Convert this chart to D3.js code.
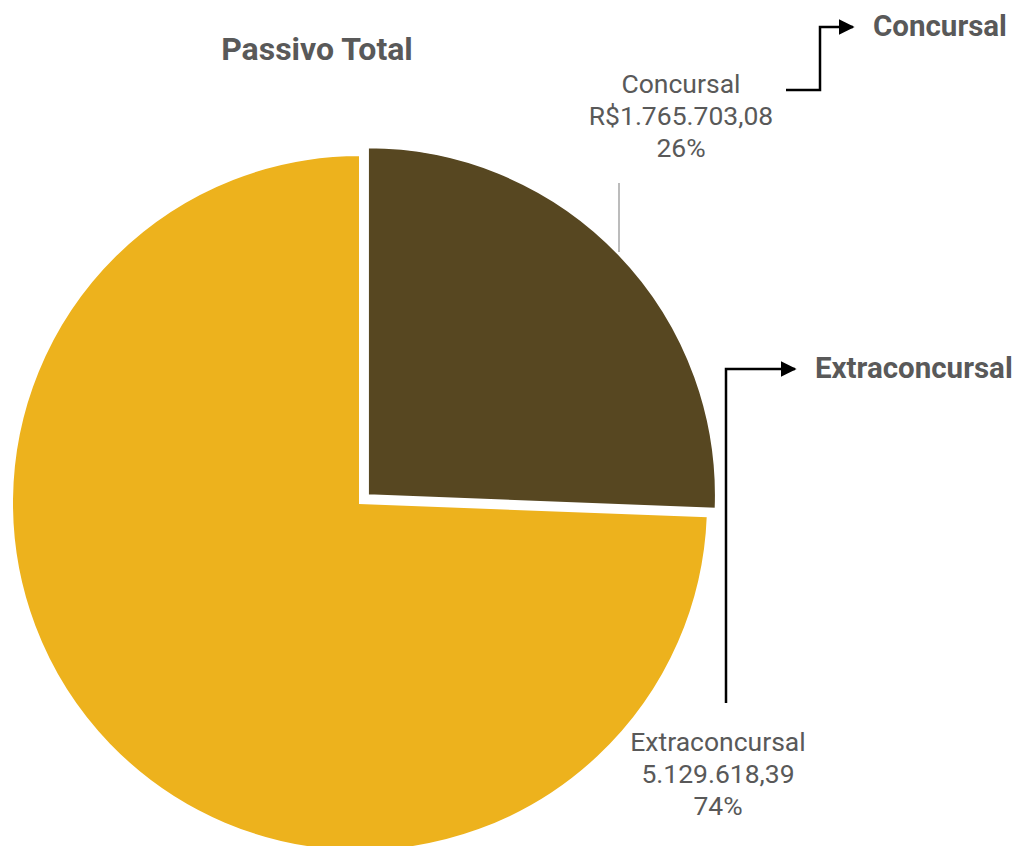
<!DOCTYPE html>
<html><head><meta charset="utf-8">
<script src="https://cdn.jsdelivr.net/npm/d3@7"></script>
<style>body{margin:0;background:#fff;}svg{display:block;font-family:Roboto,"Noto Sans",sans-serif;}</style>
</head><body>
<svg id="c" width="1019" height="846"></svg>
<script>
const categories = ["Concursal", "Extraconcursal"];
const values = [1765703.08, 5129618.39];
const valueLabels = ["R$1.765.703,08", "5.129.618,39"];
const percentLabels = ["26%", "74%"];
const colors = ["#574721", "#EDB21D"];
const title = "Passivo Total";

const svg = d3.select("#c");
const cx = 360, cy = 503, R = 348;
const pie = d3.pie().sort(null).value(d => d.v);
const data = pie(categories.map((c, i) => ({c, v: values[i], i})));
const arc = d3.arc().innerRadius(0).outerRadius(R);
const g = svg.append("g").attr("transform", `translate(${cx},${cy})`);
const explode = [11, 0];
g.selectAll("path").data(data).join("path")
  .attr("d", arc)
  .attr("fill", d => colors[d.data.i])
  .attr("stroke", "#fff").attr("stroke-width", 2)
  .attr("transform", d => {
    const a = (d.startAngle + d.endAngle) / 2, e = explode[d.data.i];
    return `translate(${e*Math.sin(a)},${-e*Math.cos(a)})`;
  });

svg.append("text").attr("x", 317).attr("y", 60).attr("text-anchor", "middle")
  .attr("font-size", 32).attr("font-weight", "bold").attr("fill", "#595959").text(title);

// data labels
const lab = [{x: 681, y: 93}, {x: 718, y: 751}];
lab.forEach((p, i) => {
  const t = svg.append("text").attr("text-anchor", "middle").attr("font-size", 26.5).attr("fill", "#595959");
  [categories[i], valueLabels[i], percentLabels[i]].forEach((s, k) => {
    t.append("tspan").attr("x", p.x).attr("y", p.y + k * 31.8).text(s);
  });
});
// leader line
svg.append("line").attr("x1", 619).attr("x2", 619).attr("y1", 183).attr("y2", 252)
  .attr("stroke", "#a6a6a6").attr("stroke-width", 1.5);

// arrows
const defs = svg.append("defs");
defs.append("marker").attr("id", "ah").attr("viewBox", "0 0 10 10").attr("refX", 9).attr("refY", 5)
  .attr("markerWidth", 16).attr("markerHeight", 16).attr("markerUnits", "userSpaceOnUse")
  .attr("orient", "auto").append("path").attr("d", "M0,0L10,5L0,10Z").attr("fill", "#000");
const line = d3.line();
svg.append("path").attr("d", line([[786, 90], [820, 90], [820, 27], [853, 27]]))
  .attr("fill", "none").attr("stroke", "#000").attr("stroke-width", 2.5).attr("marker-end", "url(#ah)");
svg.append("path").attr("d", line([[726, 703], [726, 369], [795, 369]]))
  .attr("fill", "none").attr("stroke", "#000").attr("stroke-width", 2.5).attr("marker-end", "url(#ah)");

svg.append("text").attr("x", 873).attr("y", 36).attr("font-size", 29.5).attr("font-weight", "bold")
  .attr("fill", "#595959").text(categories[0]);
svg.append("text").attr("x", 815).attr("y", 378).attr("font-size", 29.5).attr("font-weight", "bold")
  .attr("fill", "#595959").text(categories[1]);
</script>
</body></html>
